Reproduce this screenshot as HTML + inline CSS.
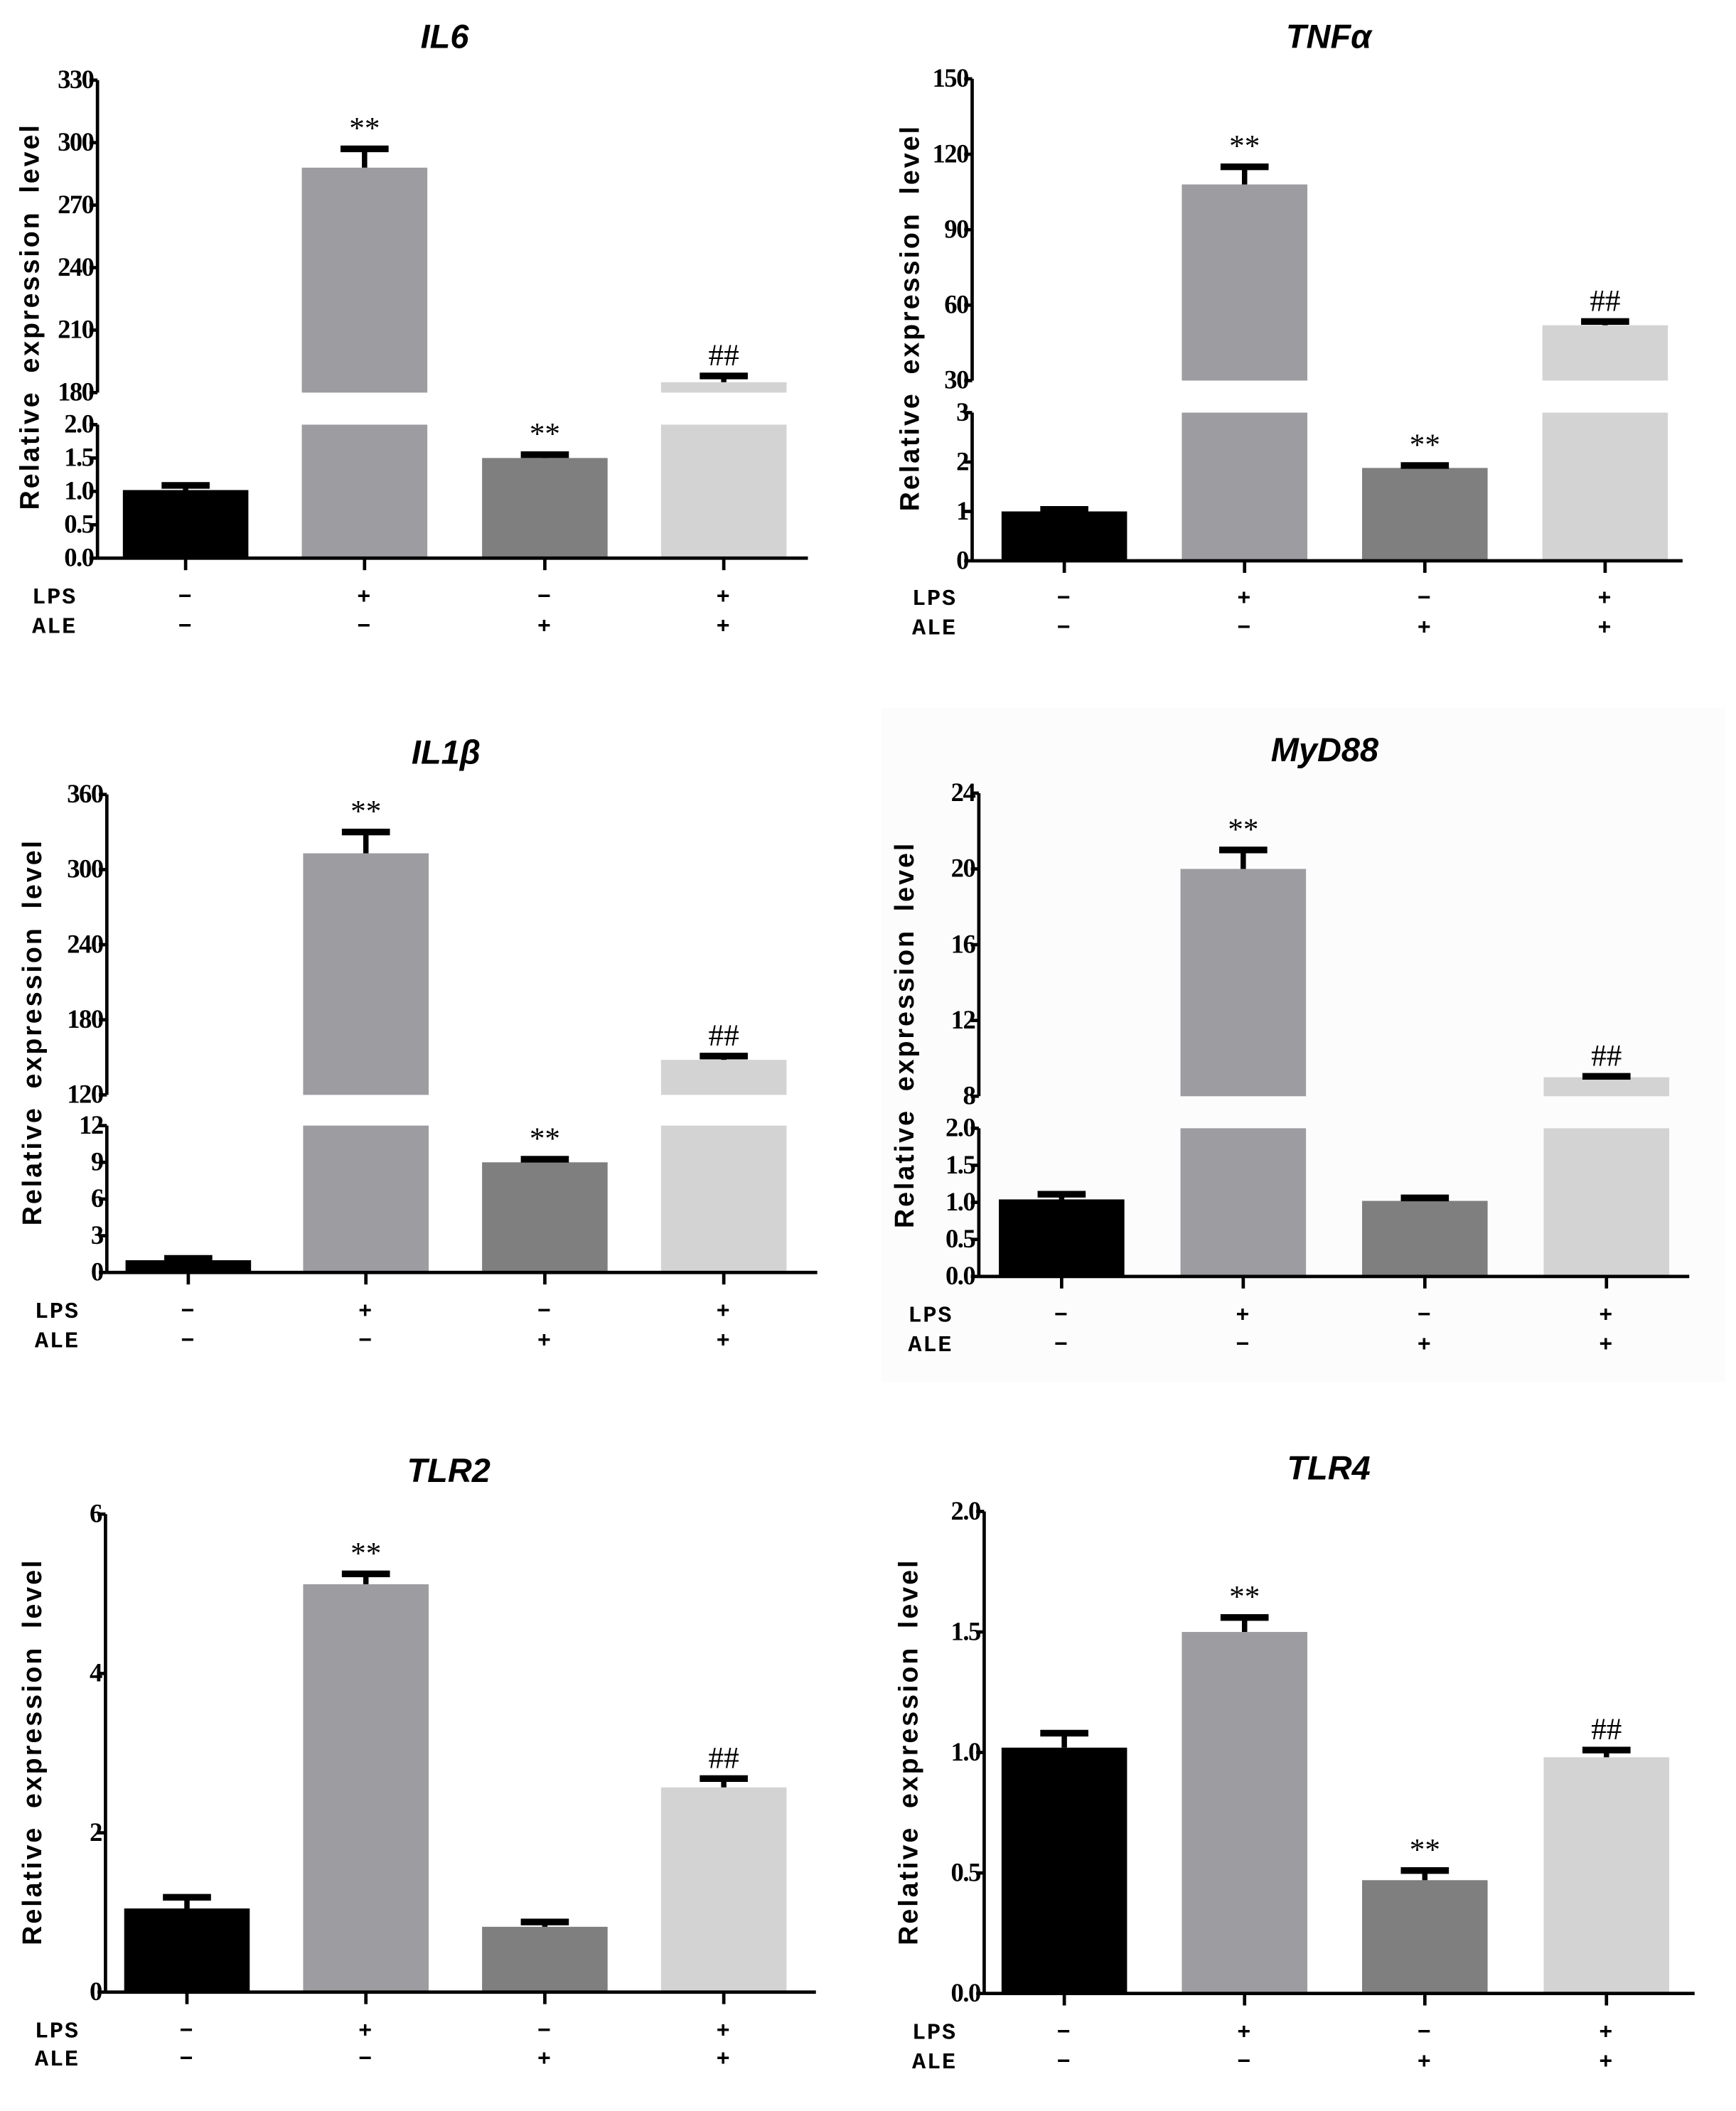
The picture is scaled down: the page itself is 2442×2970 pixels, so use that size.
<!DOCTYPE html>
<html><head><meta charset="utf-8">
<style>
html,body{margin:0;padding:0;background:#fff;}
svg{display:block;}
.tick{font-family:"Liberation Serif",serif;font-weight:bold;font-size:19.5px;fill:#000;letter-spacing:-0.8px;}
.title{font-family:"Liberation Sans",sans-serif;font-weight:bold;font-style:italic;font-size:25px;fill:#000;}
.ytitle{font-family:"Liberation Sans",sans-serif;font-weight:bold;font-size:20px;fill:#000;letter-spacing:1.6px;word-spacing:6px;}
.cat{font-family:"Liberation Mono","Liberation Sans",sans-serif;font-size:17px;fill:#000;font-weight:bold;letter-spacing:1px;}
.ann{font-family:"Liberation Serif",serif;font-size:23px;fill:#000;}
</style></head>
<body>
<svg id="fig" width="2442" height="2970" viewBox="0 0 1300 1581" xmlns="http://www.w3.org/2000/svg">
<rect x="660" y="530" width="632" height="505" fill="#fcfcfc"/>
</svg>
<script>
// ---- data ----
const categories = ["Control", "LPS", "ALE", "LPS+ALE"];
const lpsRow = ["−", "+", "−", "+"];
const aleRow = ["−", "−", "+", "+"];
const il6Values = [1.02, 288, 1.5, 185];
const il6Errors = [0.07, 9, 0.05, 3];
const il6Ann = ["", "**", "**", "##"];
const il6UpperTicks = [180, 210, 240, 270, 300, 330];
const il6LowerTicks = ["0.0", "0.5", "1.0", "1.5", "2.0"];
const tnfValues = [1.0, 108, 1.88, 52];
const tnfErrors = [0.04, 7, 0.05, 1.5];
const tnfAnn = ["", "**", "**", "##"];
const tnfUpperTicks = [30, 60, 90, 120, 150];
const tnfLowerTicks = ["0", "1", "2", "3"];
const il1bValues = [1.0, 313, 9.0, 148];
const il1bErrors = [0.15, 17, 0.25, 3];
const il1bAnn = ["", "**", "**", "##"];
const il1bUpperTicks = [120, 180, 240, 300, 360];
const il1bLowerTicks = ["0", "3", "6", "9", "12"];
const myd88Values = [1.04, 20, 1.02, 9.0];
const myd88Errors = [0.07, 1.0, 0.04, 0.05];
const myd88Ann = ["", "**", "", "##"];
const myd88UpperTicks = [8, 12, 16, 20, 24];
const myd88LowerTicks = ["0.0", "0.5", "1.0", "1.5", "2.0"];
const tlr2Values = [1.05, 5.12, 0.82, 2.57];
const tlr2Errors = [0.14, 0.13, 0.06, 0.11];
const tlr2Ann = ["", "**", "", "##"];
const tlr2Ticks = ["0", "2", "4", "6"];
const tlr4Values = [1.02, 1.5, 0.47, 0.98];
const tlr4Errors = [0.06, 0.06, 0.04, 0.03];
const tlr4Ann = ["", "**", "**", "##"];
const tlr4Ticks = ["0.0", "0.5", "1.0", "1.5", "2.0"];
const barColors = ["#000000", "#9d9ca1", "#7f7f7f", "#d3d3d3"];

const NS = "http://www.w3.org/2000/svg";
const svg = document.getElementById("fig");
function mk(tag, attrs, parent, text) {
  const e = document.createElementNS(NS, tag);
  for (const k in attrs) e.setAttribute(k, attrs[k]);
  if (text !== undefined) e.textContent = text;
  (parent || svg).appendChild(e);
  return e;
}

function panel(cfg) {
  const g = mk("g", {});
  
  
  const t = mk("text", {x: cfg.titleX, y: cfg.titleY, class: "title", "text-anchor": "middle"}, g, cfg.title);
  
  
  const yt = mk("text", {x: 0, y: 0, class: "ytitle", "text-anchor": "middle", transform: "translate(" + cfg.ytX + "," + cfg.ytY + ") rotate(-90)"}, g, "Relative  expression level");
  
  

  const segs = cfg.segs;
  function scaleIn(s, v) { return s.yBot - (v - s.min) / (s.max - s.min) * (s.yBot - s.yTop); }
  const bw = 94;
  segs.forEach((s, si) => {
    const al = mk("line", {x1: cfg.ax, x2: cfg.ax, y1: s.yTop, y2: s.yBot, stroke: "#000", "stroke-width": 2.5}, g);
    
    
    s.ticks.forEach(tv => {
      const v = parseFloat(tv);
      const y = scaleIn(s, v);
      mk("line", {x1: cfg.ax - 6, x2: cfg.ax, y1: y, y2: y, stroke: "#000", "stroke-width": 2.5}, g);
      const tl = mk("text", {x: cfg.ax - 3, y: y + 6, class: "tick", "text-anchor": "end"}, g, String(tv));
      
      
    });
  });
  const base = segs[segs.length - 1].yBot;
  cfg.values.forEach((v, i) => {
    const cx = cfg.centers[i];
    const x0 = cx - bw / 2;
    let topY = null;
    segs.forEach(s => {
      if (v <= s.min) return;
      const vv = Math.min(v, s.max);
      const y = scaleIn(s, vv);
      const r = mk("rect", {x: x0, y: y, width: bw, height: s.yBot - y, fill: barColors[i]}, g);
      
      
      if (v <= s.max) topY = y;
    });
    let es = segs.find(s => v > s.min && v <= s.max) || segs[segs.length - 1];
    const ey = scaleIn(es, v + cfg.errors[i]);
    const el = mk("line", {x1: cx, x2: cx, y1: topY, y2: ey, stroke: "#000", "stroke-width": 4}, g);
    
    
    mk("line", {x1: cx - 18, x2: cx + 18, y1: ey, y2: ey, stroke: "#000", "stroke-width": 5}, g);
    if (cfg.ann[i]) {
      const a = mk("text", {x: cx, y: ey - 8, class: "ann", "text-anchor": "middle"}, g, cfg.ann[i]);
      
      
    }
    mk("line", {x1: cx, x2: cx, y1: base, y2: base + 9, stroke: "#000", "stroke-width": 2.5}, g);
    const l1 = mk("text", {x: cx, y: cfg.lpsY + 6, class: "cat", "text-anchor": "middle"}, g, lpsRow[i]);
    
    
    const l2 = mk("text", {x: cx, y: cfg.aleY + 6, class: "cat", "text-anchor": "middle"}, g, aleRow[i]);
    
    
  });
  const xl = mk("line", {x1: cfg.ax, x2: cfg.ax + 532, y1: base, y2: base, stroke: "#000", "stroke-width": 2.5}, g);
  
  
  const lp = mk("text", {x: cfg.labX, y: cfg.lpsY + 6, class: "cat"}, g, "LPS");
  
  
  const al2 = mk("text", {x: cfg.labX, y: cfg.aleY + 6, class: "cat"}, g, "ALE");
  
  
}

function nums(a) { return a.map(Number); }
function seg(ticks, yTop, yBot) { const n = nums(ticks); return {min: n[0], max: n[n.length - 1], yTop, yBot, ticks}; }

panel({id: "il6", title: "IL6", titleX: 333, titleY: 36, ytX: 29, ytY: 237, ax: 73, labX: 24, lpsY: 446, aleY: 468,
  centers: [139, 273, 408, 542], values: il6Values, errors: il6Errors, ann: il6Ann,
  segs: [seg(il6UpperTicks, 60, 294), seg(il6LowerTicks, 318, 418)]});
panel({id: "tnfa", title: "TNFα", titleX: 995, titleY: 36, ytX: 688, ytY: 238, ax: 728, labX: 683, lpsY: 447, aleY: 469,
  centers: [797, 932, 1067, 1202], values: tnfValues, errors: tnfErrors, ann: tnfAnn,
  segs: [seg(tnfUpperTicks, 59, 285), seg(tnfLowerTicks, 309, 420)]});
panel({id: "il1b", title: "IL1β", titleX: 334, titleY: 572, ytX: 31, ytY: 773, ax: 80, labX: 26, lpsY: 981, aleY: 1003,
  centers: [141, 274, 408, 542], values: il1bValues, errors: il1bErrors, ann: il1bAnn,
  segs: [seg(il1bUpperTicks, 595, 820), seg(il1bLowerTicks, 843, 953)]});
panel({id: "myd88", title: "MyD88", titleX: 992, titleY: 570, ytX: 684, ytY: 775, ax: 733, labX: 680, lpsY: 984, aleY: 1006,
  centers: [795, 931, 1067, 1203], values: myd88Values, errors: myd88Errors, ann: myd88Ann,
  segs: [seg(myd88UpperTicks, 594, 821), seg(myd88LowerTicks, 845, 956)]});
panel({id: "tlr2", title: "TLR2", titleX: 336, titleY: 1110, ytX: 31, ytY: 1312, ax: 79, labX: 26, lpsY: 1520, aleY: 1541,
  centers: [140, 274, 408, 542], values: tlr2Values, errors: tlr2Errors, ann: tlr2Ann,
  segs: [seg(tlr2Ticks, 1134, 1492)]});
panel({id: "tlr4", title: "TLR4", titleX: 995, titleY: 1108, ytX: 687, ytY: 1312, ax: 737, labX: 683, lpsY: 1521, aleY: 1543,
  centers: [797, 932, 1067, 1203], values: tlr4Values, errors: tlr4Errors, ann: tlr4Ann,
  segs: [seg(tlr4Ticks, 1132, 1493)]});
</script>
</body></html>
